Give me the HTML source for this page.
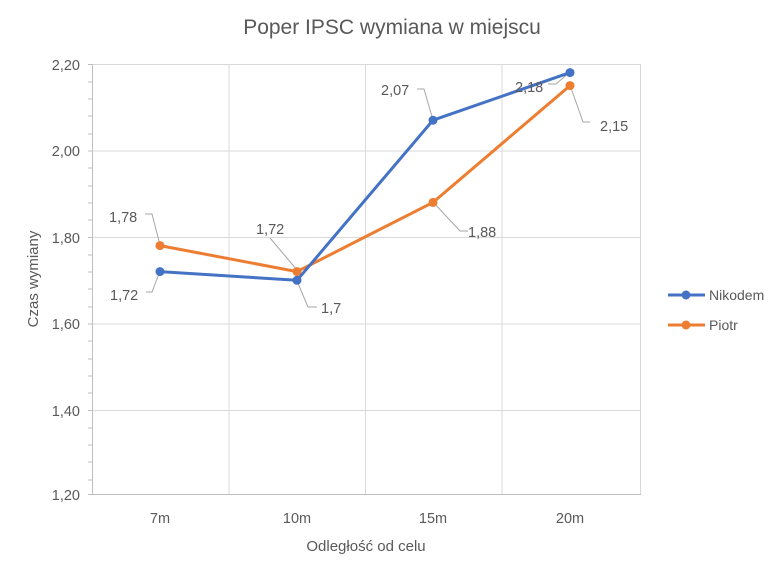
<!DOCTYPE html>
<html><head><meta charset="utf-8"><style>
html,body{margin:0;padding:0;background:#fff;}
svg text{font-family:"Liberation Sans",sans-serif;fill:#595959;}
</style></head><body>
<svg width="784" height="572" viewBox="0 0 784 572" xmlns="http://www.w3.org/2000/svg">
<rect width="784" height="572" fill="#fff"/>
<text x="392" y="34" font-size="21" text-anchor="middle">Poper IPSC wymiana w miejscu</text>
<g stroke="#d9d9d9" stroke-width="1">
<line x1="92" y1="64.5" x2="641" y2="64.5"/>
<line x1="92" y1="151" x2="641" y2="151"/>
<line x1="92" y1="237.5" x2="641" y2="237.5"/>
<line x1="92" y1="324" x2="641" y2="324"/>
<line x1="92" y1="410.5" x2="641" y2="410.5"/>
<line x1="229" y1="64" x2="229" y2="494"/>
<line x1="365.5" y1="64" x2="365.5" y2="494"/>
<line x1="502" y1="64" x2="502" y2="494"/>
<line x1="640.5" y1="64" x2="640.5" y2="494"/>
</g>
<g stroke="#bfbfbf" stroke-width="1">
<line x1="92.5" y1="64" x2="92.5" y2="494"/>
<line x1="88" y1="494.5" x2="641" y2="494.5"/>
<line x1="88" y1="64.5" x2="92" y2="64.5"/><line x1="88" y1="82" x2="92" y2="82"/><line x1="88" y1="99" x2="92" y2="99"/><line x1="88" y1="116" x2="92" y2="116"/><line x1="88" y1="134" x2="92" y2="134"/>
<line x1="88" y1="151" x2="92" y2="151"/><line x1="88" y1="168" x2="92" y2="168"/><line x1="88" y1="186" x2="92" y2="186"/><line x1="88" y1="203" x2="92" y2="203"/><line x1="88" y1="220" x2="92" y2="220"/>
<line x1="88" y1="237.5" x2="92" y2="237.5"/><line x1="88" y1="255" x2="92" y2="255"/><line x1="88" y1="272" x2="92" y2="272"/><line x1="88" y1="289" x2="92" y2="289"/><line x1="88" y1="307" x2="92" y2="307"/>
<line x1="88" y1="324" x2="92" y2="324"/><line x1="88" y1="341" x2="92" y2="341"/><line x1="88" y1="359" x2="92" y2="359"/><line x1="88" y1="376" x2="92" y2="376"/><line x1="88" y1="393" x2="92" y2="393"/>
<line x1="88" y1="410.5" x2="92" y2="410.5"/><line x1="88" y1="428" x2="92" y2="428"/><line x1="88" y1="445" x2="92" y2="445"/><line x1="88" y1="462" x2="92" y2="462"/><line x1="88" y1="480" x2="92" y2="480"/>
</g>
<g font-size="14.5" text-anchor="end">
<text x="80" y="70">2,20</text><text x="80" y="156">2,00</text><text x="80" y="243">1,80</text>
<text x="80" y="329">1,60</text><text x="80" y="416">1,40</text><text x="80" y="500">1,20</text>
</g>
<g font-size="14.5" text-anchor="middle">
<text x="160" y="523">7m</text><text x="297" y="523">10m</text><text x="433" y="523">15m</text><text x="570" y="523">20m</text>
</g>
<text x="366" y="551" font-size="15" text-anchor="middle">Odległość od celu</text>
<text transform="translate(38,279) rotate(-90)" font-size="15" text-anchor="middle">Czas wymiany</text>
<g stroke="#a6a6a6" stroke-width="1" fill="none">
<polyline points="145,214 152,214 160,245"/>
<polyline points="146,292 152,292 160,271"/>
<polyline points="270,238 297,270"/>
<polyline points="317,307 308,307 297,281"/>
<polyline points="417,89 424,89 433,120"/>
<polyline points="548,84 556,84 570,72"/>
<polyline points="590,122 583,122 570,85"/>
<polyline points="468,231 460,231 433,202"/>
</g>
<polyline points="160,245.6 297,271.6 433,202.4 570,85.6" fill="none" stroke="#ed7d31" stroke-width="3" stroke-linejoin="round"/>
<g fill="#ed7d31"><circle cx="160" cy="245.6" r="4.5"/><circle cx="297" cy="271.6" r="4.5"/><circle cx="433" cy="202.4" r="4.5"/><circle cx="570" cy="85.6" r="4.5"/></g>
<polyline points="160,271.6 297,280.3 433,120.2 570,72.6" fill="none" stroke="#4472c4" stroke-width="3" stroke-linejoin="round"/>
<g fill="#4472c4"><circle cx="160" cy="271.6" r="4.5"/><circle cx="297" cy="280.3" r="4.5"/><circle cx="433" cy="120.2" r="4.5"/><circle cx="570" cy="72.6" r="4.5"/></g>
<g font-size="14.5" fill="#404040">
<text x="109" y="222">1,78</text>
<text x="110" y="300">1,72</text>
<text x="256" y="234">1,72</text>
<text x="321" y="313">1,7</text>
<text x="381" y="95">2,07</text>
<text x="515" y="92">2,18</text>
<text x="600" y="131">2,15</text>
<text x="468" y="237">1,88</text>
</g>
<line x1="668" y1="295" x2="705" y2="295" stroke="#4472c4" stroke-width="3"/><circle cx="686" cy="295" r="4.5" fill="#4472c4"/>
<text x="709" y="300" font-size="14">Nikodem</text>
<line x1="668" y1="325" x2="705" y2="325" stroke="#ed7d31" stroke-width="3"/><circle cx="686" cy="325" r="4.5" fill="#ed7d31"/>
<text x="709" y="330" font-size="14">Piotr</text>
</svg>
</body></html>
